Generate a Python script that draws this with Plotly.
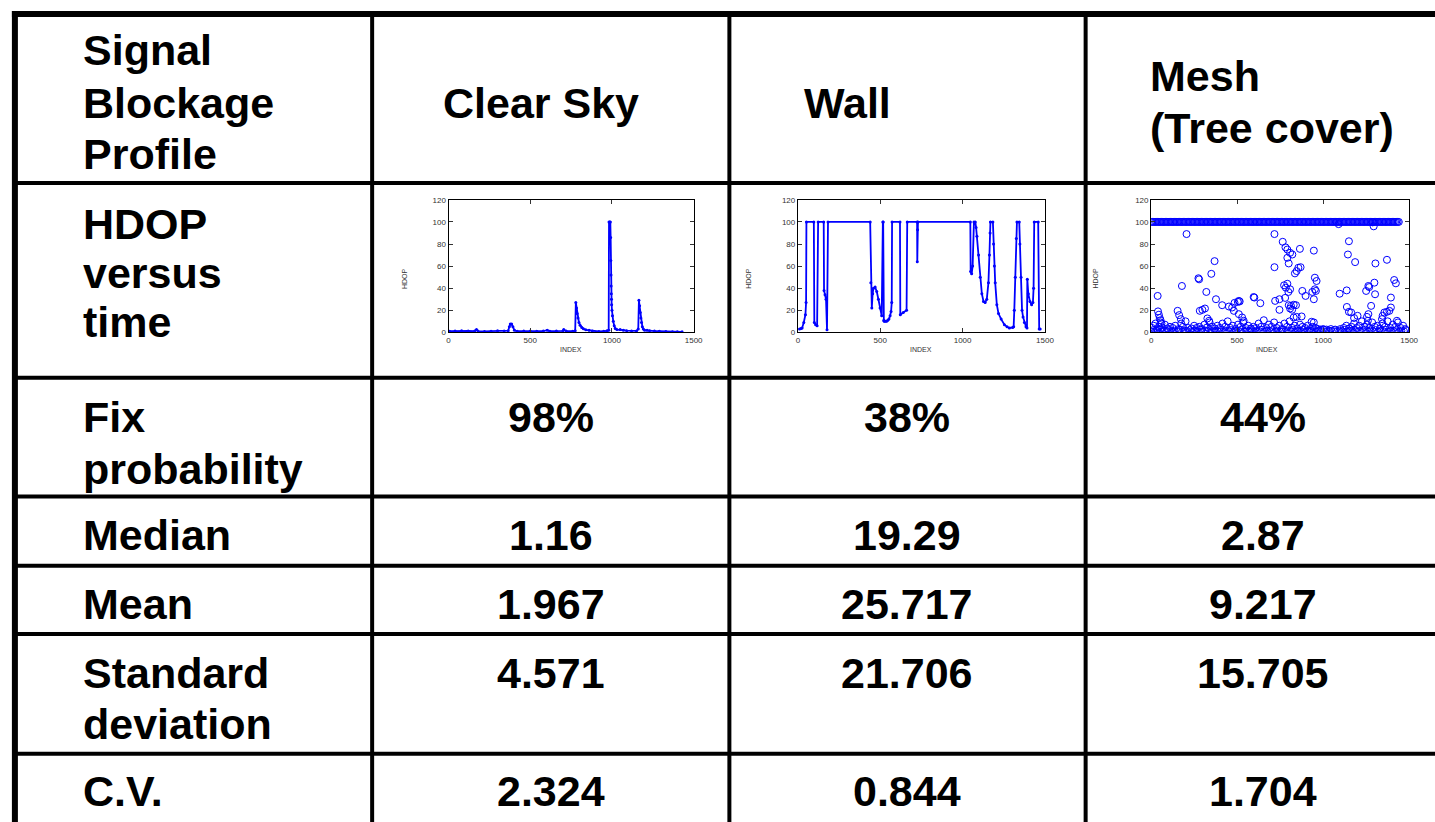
import plotly.graph_objects as go

W, H = 1435, 822

# ---------------- table text ----------------
header_label = ["Signal", "Blockage", "Profile"]
col_headers = [["Clear Sky"], ["Wall"], ["Mesh", "(Tree cover)"]]
row_labels = [["HDOP", "versus", "time"], ["Fix", "probability"], ["Median"], ["Mean"],
              ["Standard", "deviation"], ["C.V."]]
fix_prob = ["98%", "38%", "44%"]
median = ["1.16", "19.29", "2.87"]
mean = ["1.967", "25.717", "9.217"]
std_dev = ["4.571", "21.706", "15.705"]
cv = ["2.324", "0.844", "1.704"]

# ---------------- Clear Sky HDOP ----------------
cs_x = [6, 40, 80, 120, 160, 171, 180, 220, 260, 300, 340, 365, 372, 378, 386, 394, 403, 420, 460,
        500, 540, 580, 604, 620, 660, 700, 705, 720, 760, 775, 779, 783, 787, 792, 798, 805, 815,
        825, 840, 860, 880, 920, 950, 970, 980, 982, 986, 990, 992, 993, 994, 995, 996, 997, 998,
        1000, 1003, 1008, 1014, 1020, 1030, 1050, 1070, 1090, 1120, 1150, 1161, 1165, 1169, 1173,
        1177, 1181, 1186, 1192, 1200, 1215, 1230, 1260, 1290, 1330, 1370, 1400, 1429]
cs_y = [1.0, 1.2, 1.5, 1.3, 1.2, 2.5, 1.2, 0.8, 1.1, 1.4, 1.2, 1.5, 5.0, 7.5, 7.5, 5.0, 2.0, 1.0, 1.2,
        1.3, 1.0, 1.2, 2.0, 1.1, 1.2, 1.3, 2.5, 1.2, 1.0, 1.5, 27, 22, 17, 13, 9, 6.5, 4.5,
        3.2, 2.3, 1.8, 1.3, 0.8, 1.0, 1.5, 1.8, 100, 100, 100, 86, 65, 52, 42, 35, 30, 25,
        20, 15, 10, 6, 3.5, 2.5, 2.5, 2.0, 1.5, 1.2, 1.3, 3.0, 29, 24, 18,
        13, 9, 5, 3, 2, 1.8, 1.5, 1.2, 1.0, 0.8, 0.6, 0.5, 0.5]

# ---------------- Wall HDOP ----------------
wall_x = [10, 20, 26, 36, 46, 50, 52, 97, 100, 108, 117, 123, 157, 159, 165, 171, 177, 183, 439,
          443, 449, 454, 459, 469, 479, 489, 499, 509, 516, 518, 522, 524, 530, 539, 546, 553, 560,
          566, 570, 572, 620, 622, 640, 660, 664, 724, 725, 727, 729, 1047, 1049, 1055, 1061, 1069,
          1077, 1082, 1087, 1097, 1107, 1117, 1127, 1137, 1147, 1157, 1163, 1167, 1169, 1184, 1188,
          1193, 1198, 1208, 1218, 1234, 1254, 1270, 1284, 1304, 1310, 1314, 1320, 1326, 1330, 1344,
          1348, 1355, 1361, 1367, 1375, 1385, 1391, 1393, 1399, 1409, 1419, 1427, 1431, 1435, 1459,
          1465, 1471]
wall_y = [3, 3.5, 4, 9, 16, 27, 100, 100, 9, 7, 6, 100, 100, 38, 34, 30, 2.4, 100, 100,
          45, 22, 35, 40, 41, 37, 30, 22, 15, 100, 100, 11, 10, 10, 10, 11, 12, 15,
          19, 27, 100, 100, 16, 18, 20, 100, 100, 64, 93, 100, 100, 55, 53, 60, 100,
          100, 95, 87, 70, 50, 35, 28, 27, 30, 45, 70, 90, 100, 100, 80,
          60, 45, 25, 17, 12, 7, 5, 4, 4.5, 5, 20, 50, 85, 100, 100,
          80, 50, 20, 14, 9, 5, 4, 48, 35, 28, 25, 27, 40, 100, 100,
          3, 3]

# ---------------- Mesh HDOP (scatter) ----------------
mesh_band_x = [0, 8, 15, 23, 30, 38, 45, 53, 60, 68, 75, 83, 90, 98, 105, 113, 120, 128, 135, 143,
               150, 158, 165, 173, 180, 188, 195, 203, 210, 218, 225, 233, 240, 248, 255, 263, 270,
               278, 285, 293, 300, 308, 315, 323, 330, 338, 345, 353, 360, 368, 375, 383, 390, 398,
               405, 413, 420, 428, 435, 443, 450, 458, 465, 473, 480, 488, 495, 503, 510, 518, 525,
               533, 540, 548, 555, 563, 570, 578, 585, 593, 600, 608, 615, 623, 630, 638, 645, 653,
               660, 668, 675, 683, 690, 698, 705, 713, 720, 728, 735, 743, 750, 758, 765, 773, 780,
               788, 795, 803, 810, 818, 825, 833, 840, 848, 855, 863, 870, 878, 885, 893, 900, 908,
               915, 923, 930, 938, 945, 953, 960, 968, 975, 983, 990, 998, 1005, 1013, 1020, 1028,
               1035, 1043, 1050, 1058, 1065, 1073, 1080, 1088, 1095, 1103, 1110, 1118, 1125, 1133,
               1140, 1148, 1155, 1163, 1170, 1178, 1185, 1193, 1200, 1208, 1215, 1223, 1230, 1238,
               1245, 1253, 1260, 1268, 1275, 1283, 1290, 1298, 1305, 1313, 1320, 1328, 1335, 1343,
               1350, 1358, 1365, 1373, 1380, 1388, 1395, 1403, 1410, 1418, 1425, 1433, 1440]
mesh_band_y = [100] * len(mesh_band_x)

mesh_low = [(0, 1), (10, 2), (20, 0.5), (30, 1.5), (40, 1), (50, 2.5), (60, 0.8), (75, 1.5), (90, 1),
            (105, 2), (120, 0.6), (135, 1.4), (150, 1), (165, 2.2), (180, 0.7), (195, 1.5), (210, 1),
            (225, 2), (240, 0.5), (255, 1.5), (270, 1), (285, 2.4), (300, 0.8), (315, 1.6), (330, 1),
            (345, 2), (360, 0.6), (375, 1.4), (390, 1), (405, 2.2), (420, 0.7), (435, 1.5), (450, 1),
            (465, 2), (480, 0.5), (495, 1.5), (510, 1), (525, 2.4), (540, 0.8), (555, 1.6), (570, 1),
            (585, 2), (600, 0.6), (615, 1.4), (630, 1), (645, 2.2), (660, 0.7), (675, 1.5), (690, 1),
            (705, 2), (720, 0.5), (735, 1.5), (750, 1), (765, 2.4), (780, 0.8), (795, 1.6), (810, 1),
            (825, 2), (840, 0.6), (855, 1.4), (870, 1), (885, 2.2), (900, 0.7), (915, 1.5), (930, 1),
            (945, 2), (960, 0.5), (975, 1.5), (990, 1), (1005, 2.4), (1020, 0.8), (1035, 1.6),
            (1050, 1), (1065, 2), (1080, 0.6), (1095, 1.4), (1110, 1), (1125, 2.2), (1140, 0.7),
            (1155, 1.5), (1170, 1), (1185, 2), (1200, 0.5), (1215, 1.5), (1230, 1), (1245, 2.4),
            (1260, 0.8), (1275, 1.6), (1290, 1), (1305, 2), (1320, 0.6), (1335, 1.4), (1350, 1),
            (1365, 2.2), (1380, 0.7), (1395, 1.5), (1410, 1), (1425, 2), (1440, 0.5), (1455, 1.5),
            (1470, 1), (1480, 2),
            (5, 4), (15, 6), (25, 8), (35, 3), (45, 5), (55, 9), (65, 4), (80, 7), (95, 3.5),
            (110, 5), (125, 4), (140, 6), (160, 3), (175, 8), (185, 5), (200, 10), (215, 4),
            (235, 3.5), (250, 6), (265, 4), (280, 5), (295, 3), (310, 7), (325, 4.5), (340, 9),
            (355, 5), (370, 3.5), (385, 6), (400, 4), (415, 8), (430, 5), (445, 10), (460, 4),
            (475, 6), (490, 3), (505, 7), (520, 5), (535, 9), (550, 4), (565, 6), (580, 3.5),
            (595, 5), (610, 4), (625, 8), (640, 5), (655, 11), (670, 4), (685, 7), (700, 5),
            (715, 9), (730, 4), (745, 6), (760, 3), (775, 8), (790, 5), (805, 10), (820, 4),
            (835, 6), (850, 3.5), (865, 7), (880, 5), (895, 4), (910, 6), (925, 3), (940, 5),
            (955, 4), (970, 3), (985, 2.5), (1000, 3), (1020, 2.5), (1045, 3), (1070, 2.5),
            (1100, 3), (1120, 4), (1135, 6), (1150, 3.5), (1165, 5), (1180, 8), (1195, 4),
            (1210, 6), (1225, 10), (1240, 5), (1255, 7), (1270, 4), (1285, 9), (1300, 5),
            (1315, 6), (1330, 3.5), (1345, 8), (1360, 5), (1375, 10), (1390, 4), (1405, 7),
            (1420, 5), (1435, 9), (1450, 4), (1465, 6), (1478, 3)]

mesh_out = [(38, 33), (40, 19), (45, 16), (50, 13), (55, 11), (60, 8), (206, 89), (179, 42),
            (154, 19.5), (163, 15.6), (173, 12), (275, 49), (279, 48), (321, 36.6), (313, 21.6),
            (298, 20.4), (283, 19.5), (350, 53), (369, 64.5), (377, 30), (327, 12.6), (337, 10.5),
            (413, 24.6), (452, 23.4), (471, 22.5), (485, 26.7), (504, 27.6), (510, 28.5),
            (515, 28), (481, 19.5), (510, 16.5), (529, 13.5), (538, 10.5), (596, 32), (600, 31.5),
            (635, 26.4), (717, 89), (717, 59), (765, 82), (721, 28.5), (746, 30), (746, 20.4),
            (781, 77), (792, 75), (808, 72), (821, 70.5), (792, 67.5), (800, 62.4), (865, 75.6),
            (836, 53.4), (846, 55.5), (856, 58.5), (869, 59), (773, 42.6), (792, 44), (783, 40.5),
            (798, 36.6), (808, 39), (779, 31.2), (800, 24.6), (813, 24), (829, 25), (842, 24.6),
            (808, 21.6), (820, 20.5), (829, 13.5), (846, 14), (875, 14.4), (879, 37.5), (898, 33),
            (946, 74), (952, 49.5), (962, 46.5), (952, 39), (958, 37.5), (937, 36.6), (946, 30),
            (933, 9.6), (946, 9), (1090, 98), (1096, 35), (1137, 38), (1144, 70.5), (1150, 82.5),
            (1138, 23), (1150, 18.6), (1163, 18), (1186, 63.6), (1200, 15), (1180, 13),
            (1250, 37.5), (1263, 42), (1268, 41), (1279, 24), (1263, 16.5), (1255, 14),
            (1298, 45), (1302, 34.5), (1304, 62.4), (1294, 96), (1288, 99.6), (1260, 10.5),
            (1371, 65.7), (1394, 31.5), (1413, 47.4), (1423, 44.4), (1394, 22.5), (1385, 19.5),
            (1371, 18.6), (1356, 18), (1346, 15), (1342, 12), (1429, 10.5)]

mesh_x = mesh_band_x + [p[0] for p in mesh_low] + [p[0] for p in mesh_out]
mesh_y = mesh_band_y + [p[1] for p in mesh_low] + [p[1] for p in mesh_out]

x_ticks = [0, 500, 1000, 1500]
y_ticks = [0, 20, 40, 60, 80, 100, 120]

# ---------------- geometry helpers (pixels -> paper) ----------------
def px(x):
    return x / W

def py(y):
    return 1 - y / H

BLUE = "#0000ff"
FONT = "Liberation Sans, Arial, sans-serif"
TXT_SIZE = 43

fig = go.Figure()

fig.add_trace(go.Scatter(x=cs_x, y=cs_y, mode="lines+markers",
                         line=dict(color=BLUE, width=1.8),
                         marker=dict(color=BLUE, size=3), xaxis="x", yaxis="y",
                         showlegend=False))
fig.add_trace(go.Scatter(x=wall_x, y=wall_y, mode="lines+markers",
                         line=dict(color=BLUE, width=1.8),
                         marker=dict(color=BLUE, size=3), xaxis="x2", yaxis="y2",
                         showlegend=False))
fig.add_trace(go.Scatter(x=mesh_x, y=mesh_y, mode="markers",
                         marker=dict(symbol="circle-open", color=BLUE, size=7,
                                     line=dict(width=1, color=BLUE)),
                         xaxis="x3", yaxis="y3", showlegend=False))

charts = [
    # (left, right, top, bottom) in pixels
    (450, 697, 198, 332),
    (802, 1051, 198, 332),
    (1158, 1418, 198, 332),
]

axis_common = dict(showline=True, linecolor="black", linewidth=1, mirror="allticks",
                   ticks="inside", ticklen=4, tickcolor="#333", tickwidth=1,
                   showgrid=False, zeroline=False,
                   tickfont=dict(family=FONT, size=8, color="#333"))

layout_axes = {}
for i, (l, r, t, b) in enumerate(charts):
    sfx = "" if i == 0 else str(i + 1)
    layout_axes["xaxis" + sfx] = dict(axis_common, domain=[px(l), px(r)], range=[0, 1500],
                                      tickvals=x_ticks, anchor="y" + sfx)
    layout_axes["yaxis" + sfx] = dict(axis_common, domain=[py(b), py(t)], range=[0, 120],
                                      tickvals=y_ticks, anchor="x" + sfx)

fig.update_layout(**layout_axes)

annotations = []

def txt(s, x, y, anchor="left", size=TXT_SIZE):
    annotations.append(dict(text="<b>" + s + "</b>", x=px(x), y=py(y), xref="paper", yref="paper",
                            xanchor=anchor, yanchor="middle", showarrow=False,
                            font=dict(family=FONT, size=size, color="black")))

# axis titles of mini charts
for (l, r, t, b) in charts:
    annotations.append(dict(text="HDOP", x=px(l - 50), y=py((t + b) / 2), xref="paper",
                            yref="paper", textangle=-90, showarrow=False,
                            font=dict(family=FONT, size=7, color="#333")))
    annotations.append(dict(text="INDEX", x=px((l + r) / 2), y=py(b + 17), xref="paper",
                            yref="paper", showarrow=False,
                            font=dict(family=FONT, size=7, color="#333")))

# header row
for s, y in zip(header_label, [47, 100, 152]):
    txt(s, 80, y)
txt(col_headers[0][0], 442, 100)
txt(col_headers[1][0], 806, 100)
txt(col_headers[2][0], 1155, 73)
txt(col_headers[2][1], 1155, 125)

# row labels
row_line_y = [[222, 272, 322], [418, 470], [537], [607], [676, 728], [796]]
for labels, ys in zip(row_labels, row_line_y):
    for s, y in zip(labels, ys):
        txt(s, 80, y)

col_centers = [553, 912, 1271]
for vals, y in zip([fix_prob, median, mean, std_dev, cv], [418, 537, 607, 676, 796]):
    for v, cx in zip(vals, col_centers):
        txt(v, cx, y, anchor="center")

# table lines
shapes = []

def hline(y, x0, x1, w):
    shapes.append(dict(type="line", xref="paper", yref="paper", x0=px(x0), x1=px(x1),
                       y0=py(y), y1=py(y), line=dict(color="black", width=w)))

def vline(x, y0, y1, w):
    shapes.append(dict(type="line", xref="paper", yref="paper", x0=px(x), x1=px(x),
                       y0=py(y0), y1=py(y1), line=dict(color="black", width=w)))

vline(13, 7, 840, 6)
hline(10, 10, 1460, 6)
for x in [373, 733, 1092]:
    vline(x, 10, 840, 4)
for y in [181, 378, 498, 568, 637, 758]:
    hline(y, 13, 1460, 4)

fig.update_layout(width=W, height=H, margin=dict(l=0, r=0, t=0, b=0),
                  paper_bgcolor="white", plot_bgcolor="white",
                  annotations=annotations, shapes=shapes, showlegend=False)

fig.write_html("out.html", config={"displayModeBar": False},
               post_script="document.body.style.margin='0';document.body.style.overflow='hidden';")
